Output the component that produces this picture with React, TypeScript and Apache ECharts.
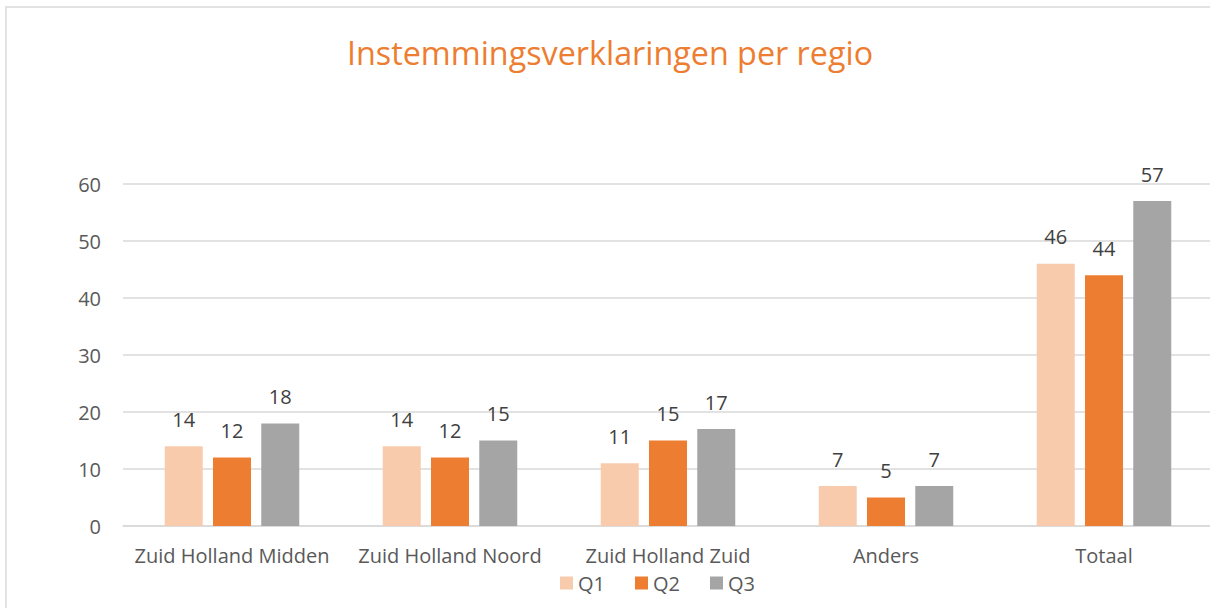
import React, { useEffect, useRef } from "react";
import * as echarts from "echarts";

const categories = ["Zuid Holland Midden", "Zuid Holland Noord", "Zuid Holland Zuid", "Anders", "Totaal"];
const q1 = [14, 14, 11, 7, 46];
const q2 = [12, 12, 15, 5, 44];
const q3 = [18, 15, 17, 7, 57];
const seriesNames = ["Q1", "Q2", "Q3"];
const colors = ["#F8CBAD", "#ED7D31", "#A5A5A5"];

export default function App() {
  const ref = useRef<HTMLDivElement>(null);
  useEffect(() => {
    if (!ref.current) return;
    const chart = echarts.init(ref.current, null, { renderer: "svg" });
    const font = "'Open Sans', 'Noto Sans', sans-serif";
    const label = {
      show: true,
      position: "top",
      distance: 17,
      color: "#404040",
      fontSize: 20,
      fontFamily: font,
    };
    const data = [q1, q2, q3];
    chart.setOption({
      animation: false,
      title: {
        text: "Instemmingsverklaringen per regio",
        left: 342,
        top: 31,
        textStyle: { color: "#ED7D31", fontSize: 32.3, fontWeight: "normal", fontFamily: font },
      },
      legend: {
        data: seriesNames,
        top: 568,
        left: 555,
        itemWidth: 13,
        itemHeight: 13,
        itemGap: 30,
        icon: "rect",
        textStyle: { color: "#595959", fontSize: 20, fontFamily: font },
      },
      grid: { left: 123, top: 184, width: 1090, height: 342 },
      xAxis: {
        type: "category",
        data: categories,
        axisLine: { lineStyle: { color: "#D9D9D9", width: 1.5 } },
        axisTick: { show: false },
        axisLabel: { color: "#595959", fontSize: 20, fontFamily: font, margin: 19, interval: 0 },
      },
      yAxis: {
        type: "value",
        min: 0,
        max: 60,
        interval: 10,
        axisLine: { show: false },
        axisTick: { show: false },
        splitLine: { lineStyle: { color: "#D9D9D9", width: 1.5 } },
        axisLabel: { color: "#595959", fontSize: 20, fontFamily: font, margin: 22 },
      },
      series: seriesNames.map((n, i) => ({
        name: n,
        type: "bar",
        data: data[i],
        barWidth: 38,
        barGap: "27%",
        itemStyle: { color: colors[i] },
        label,
      })),
      graphic: [
        {
          type: "rect",
          shape: { x: 6, y: 7, width: 1240, height: 620 },
          style: { fill: "none", stroke: "#D9D9D9", lineWidth: 1.5 },
          z: -1,
        },
      ],
    });
    return () => chart.dispose();
  }, []);
  return (
    <div style={{ position: "fixed", left: 0, top: 0, width: 1210, height: 608, overflow: "hidden", background: "#fff" }}>
      <div ref={ref} style={{ width: 1230, height: 608 }} />
    </div>
  );
}
